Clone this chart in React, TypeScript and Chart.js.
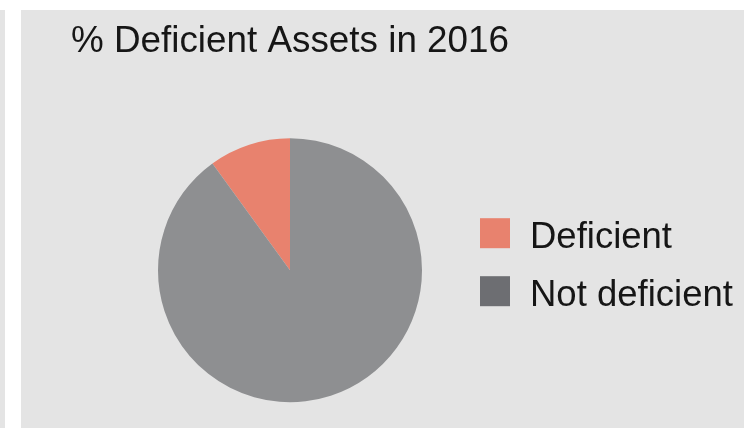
import React, { useEffect, useRef } from "react";
import { Chart, registerables } from "chart.js";

Chart.register(...registerables);

const titleText = "% Deficient Assets in 2016";
const categories = ["Deficient", "Not deficient"];
const values = [10, 90];
const sliceColors = ["#e8826e", "#8e8f91"];
const legendColors = ["#e8826e", "#6d6e72"];

const FONT = "'Liberation Sans', Arial, Helvetica, sans-serif";
const TEXT_COLOR = "#161616";

const sideLegend = {
  id: "sideLegend",
  afterDraw(chart: any) {
    const { ctx, chartArea } = chart;
    const cx = (chartArea.left + chartArea.right) / 2;
    const cy = (chartArea.top + chartArea.bottom) / 2;
    const boxX = cx + 190;
    const textX = cx + 240;
    const box = 30;
    const step = 58;
    const firstTop = cy - 52;
    ctx.save();
    ctx.font = `36.5px ${FONT}`;
    ctx.textBaseline = "alphabetic";
    ctx.textAlign = "left";
    categories.forEach((label, i) => {
      const top = firstTop + i * step;
      ctx.fillStyle = legendColors[i];
      ctx.fillRect(boxX, top, box, box);
      ctx.fillStyle = TEXT_COLOR;
      ctx.fillText(label, textX, top + 30);
    });
    ctx.restore();
  },
};

export default function App() {
  const ref = useRef<HTMLCanvasElement>(null);
  useEffect(() => {
    document.body.style.margin = "0";
    const total = values.reduce((a, b) => a + b, 0);
    const chart = new Chart(ref.current!, {
      type: "pie",
      data: {
        labels: categories,
        datasets: [
          {
            data: values,
            backgroundColor: sliceColors,
            borderWidth: 0,
          },
        ],
      },
      options: {
        animation: false,
        responsive: false,
        devicePixelRatio: 1,
        rotation: (-360 * values[0]) / total,
        radius: 132,
        layout: { padding: { left: 50, right: 235, top: 0, bottom: 0 } },
        plugins: {
          legend: { display: false },
          tooltip: { enabled: false },
          title: {
            display: true,
            text: titleText,
            align: "start",
            color: TEXT_COLOR,
            font: { family: FONT, size: 37, weight: "normal", lineHeight: 1.2 },
            padding: { top: 10, bottom: 48 },
          },
        },
      },
      plugins: [sideLegend],
    });
    return () => chart.destroy();
  }, []);

  return (
    <div style={{ position: "absolute", left: 0, top: 0, width: 744, height: 434, background: "#ffffff", overflow: "hidden" }}>
      <div style={{ position: "absolute", left: 0, top: 10, width: 5, height: 418, background: "#e4e4e4" }} />
      <div style={{ position: "absolute", left: 21, top: 10, width: 723, height: 418, background: "#e4e4e4" }}>
        <canvas ref={ref} width={723} height={418} style={{ display: "block", width: 723, height: 418 }} />
      </div>
    </div>
  );
}
